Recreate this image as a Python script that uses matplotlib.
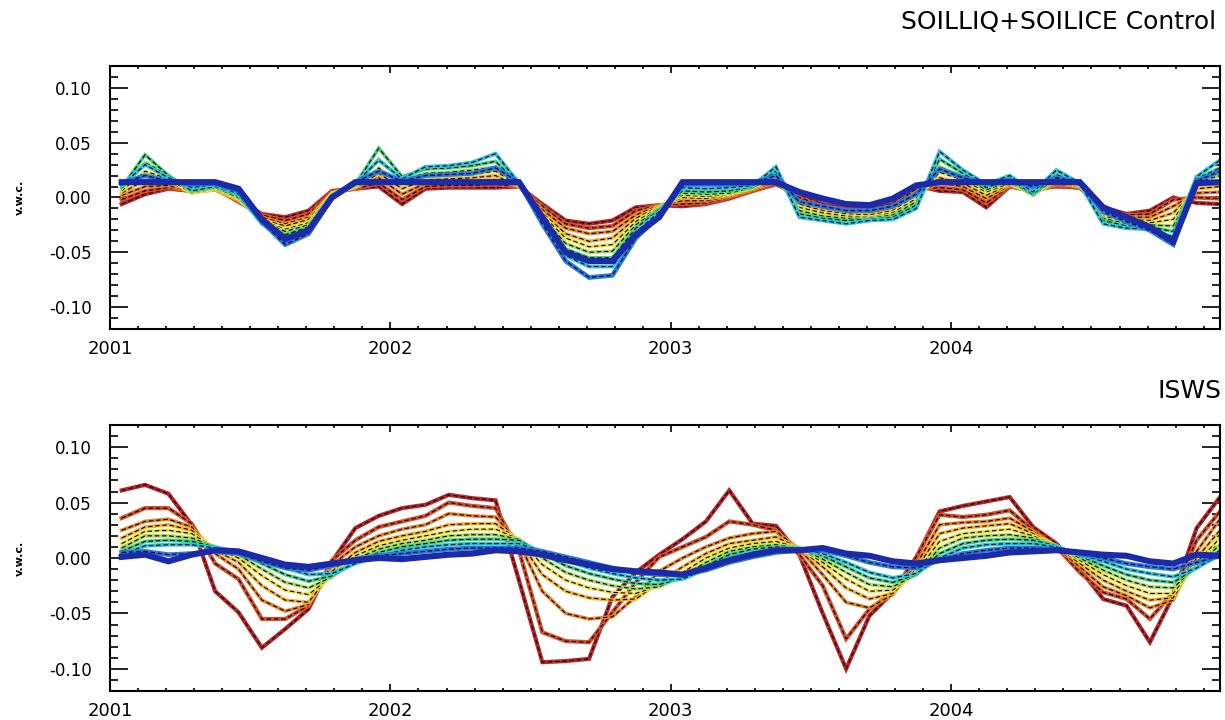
import numpy as np
import matplotlib.pyplot as plt
from matplotlib.ticker import MultipleLocator, FixedLocator, FormatStrFormatter

plt.rcParams['font.family'] = 'DejaVu Sans'
plt.rcParams['axes.unicode_minus'] = False

# meses 2001-2004, valores mensuales de anomalia de humedad (milesimas de v.w.c.)
meses = np.arange(48)
anios = [2001, 2002, 2003, 2004]

# SOILLIQ+SOILICE Control, capa 1 (superficial) a capa 10 (profunda)
ctl_c1 = [-6, 3, 8, 6, 9, -3, -15, -18, -12, 6, 8, 10, -6, 8, 9, 9, 9, 10, -6, -21, -24, -21, -9, -7,
          -8, -6, -1, 6, 12, 2, -6, -10, -10, -6, 11, 6, 5, -9, 10, 8, 10, 9, -9, -15, -12, 0, -5, -6]
ctl_c2 = [-2, 6, 9, 6, 8, -4, -16, -21, -15, 5, 8, 13, -2, 10, 11, 11, 12, 10, -8, -24, -28, -26, -12, -7,
          -6, -5, 0, 6, 13, 0, -8, -11, -12, -8, 8, 9, 7, -5, 10, 6, 11, 9, -11, -16, -15, -2, 0, -1]
ctl_c3 = [2, 10, 11, 5, 7, -3, -18, -24, -18, 4, 9, 18, 3, 13, 14, 15, 16, 10, -11, -28, -33, -31, -16, -7,
          -3, -3, 1, 7, 14, -3, -10, -13, -14, -10, 5, 13, 10, -1, 11, 5, 12, 10, -13, -18, -18, -8, 4, 5]
ctl_c4 = [4, 16, 14, 5, 7, -2, -20, -26, -20, 4, 9, 22, 8, 16, 17, 18, 20, 10, -14, -33, -40, -37, -19, -8,
          0, -1, 2, 8, 16, -6, -12, -15, -16, -12, 2, 18, 13, 2, 12, 4, 14, 10, -15, -20, -21, -14, 8, 10]
ctl_c5 = [6, 24, 17, 4, 8, -1, -21, -29, -23, 4, 10, 27, 12, 19, 20, 21, 24, 11, -16, -37, -45, -43, -22, -9,
          2, 1, 3, 9, 18, -9, -14, -17, -18, -14, -1, 23, 16, 5, 13, 3, 16, 11, -17, -22, -23, -20, 11, 15]
ctl_c6 = [8, 32, 20, 5, 9, 0, -22, -31, -25, 3, 11, 35, 16, 22, 23, 25, 28, 12, -18, -42, -50, -49, -25, -10,
          4, 3, 4, 9, 20, -12, -17, -19, -19, -16, -4, 28, 19, 7, 15, 2, 18, 11, -19, -24, -25, -26, 14, 20]
ctl_c7 = [9, 39, 20, 6, 10, 2, -22, -34, -27, 2, 12, 45, 19, 26, 27, 29, 33, 12, -20, -47, -55, -55, -28, -11,
          6, 5, 6, 10, 24, -15, -19, -21, -20, -18, -7, 35, 22, 9, 17, 3, 21, 12, -21, -26, -27, -31, 17, 27]
ctl_c8 = [11, 30, 18, 9, 12, 3, -24, -38, -30, 1, 13, 34, 17, 28, 29, 32, 40, 13, -22, -53, -63, -63, -32, -13,
          9, 8, 9, 11, 28, -18, -21, -24, -21, -20, -10, 42, 25, 12, 20, 5, 25, 13, -24, -28, -29, -36, 19, 34]
ctl_c9 = [13, 20, 15, 12, 13, 6, -22, -43, -33, 0, 14, 24, 15, 20, 21, 22, 27, 14, -24, -58, -73, -71, -37, -17,
          12, 12, 12, 13, 20, -4, -8, -12, -12, -8, 3, 26, 18, 13, 16, 10, 18, 14, -13, -22, -30, -43, 15, 24]
ctl_c10 = [14, 14, 14, 14, 14, 8, -20, -38, -30, 0, 14, 14, 14, 14, 14, 14, 14, 14, -18, -50, -58, -58, -34, -18,
           14, 14, 14, 14, 14, 5, -1, -6, -7, -1, 11, 14, 14, 14, 14, 14, 14, 14, -9, -18, -27, -40, 13, 14]

# ISWS
isws_c1 = [61, 66, 58, 30, -30, -49, -81, -64, -46, -3, 27, 38, 45, 48, 57, 54, 52, -20, -94, -93, -91, -35, -13, 3,
           17, 33, 61, 31, 29, 3, -50, -100, -52, -31, 0, 42, 47, 51, 55, 28, 13, -10, -37, -43, -76, -34, 27, 55]
isws_c2 = [36, 45, 45, 31, -5, -19, -55, -55, -43, -2, 16, 28, 33, 38, 50, 47, 45, 7, -67, -75, -76, -49, -22, 1,
           10, 19, 33, 30, 25, 3, -25, -73, -46, -31, 1, 39, 37, 39, 43, 25, 10, -13, -31, -37, -55, -31, 16, 42]
isws_c3 = [25, 33, 35, 28, 4, -10, -38, -48, -42, -6, 10, 20, 26, 30, 40, 38, 37, 14, -30, -50, -55, -53, -35, -12,
           0, 10, 18, 22, 24, 8, -15, -40, -45, -33, -6, 30, 32, 33, 36, 24, 10, -8, -26, -34, -45, -38, 6, 35]
isws_c4 = [18, 28, 30, 25, 7, -4, -25, -38, -40, -12, 5, 15, 20, 24, 30, 31, 31, 16, -15, -30, -36, -38, -37, -22,
           -8, 4, 13, 16, 19, 9, -8, -27, -37, -32, -10, 22, 27, 29, 31, 22, 11, -5, -20, -30, -38, -36, 0, 25]
isws_c5 = [13, 24, 25, 22, 9, 0, -16, -29, -33, -16, 2, 11, 16, 20, 24, 26, 26, 17, -6, -20, -27, -31, -32, -25,
           -13, 0, 9, 13, 15, 9, -4, -19, -30, -29, -13, 15, 22, 24, 26, 20, 11, -2, -15, -25, -32, -32, -4, 18]
isws_c6 = [9, 20, 20, 18, 10, 3, -10, -22, -27, -17, -1, 8, 13, 16, 20, 21, 21, 17, 0, -13, -20, -25, -28, -26,
           -16, -4, 6, 10, 12, 9, -1, -13, -24, -26, -15, 9, 18, 20, 21, 18, 11, 0, -11, -20, -26, -27, -7, 12]
isws_c7 = [6, 15, 16, 15, 10, 5, -5, -15, -21, -16, -4, 5, 10, 13, 16, 17, 17, 16, 4, -7, -14, -19, -23, -24,
           -18, -7, 3, 8, 10, 9, 2, -8, -18, -22, -15, 4, 13, 16, 17, 16, 11, 2, -7, -15, -20, -22, -9, 7]
isws_c8 = [3, 11, 12, 12, 9, 6, -1, -9, -15, -14, -5, 2, 7, 10, 12, 13, 13, 13, 6, -2, -9, -14, -18, -20,
           -19, -10, 0, 5, 8, 8, 4, -4, -13, -18, -14, 0, 9, 12, 13, 13, 10, 3, -3, -10, -14, -17, -9, 3]
isws_c9 = [5, 6, 3, 4, 6, 4, -3, -9, -11, -7, -1, 2, 4, 6, 8, 9, 9, 9, 6, 1, -4, -9, -13, -15,
           -15, -11, -4, 1, 5, 7, 7, 2, -4, -8, -9, -2, 4, 7, 9, 9, 8, 4, 0, -5, -8, -10, -4, 2]
isws_c10 = [1, 3, -3, 3, 7, 6, 0, -6, -8, -5, -2, 0, -1, 1, 3, 4, 7, 6, 3, -2, -6, -10, -12, -13,
            -15, -9, -2, 3, 7, 7, 9, 4, 2, -3, -5, -2, 0, 2, 5, 6, 7, 5, 3, 2, -3, -5, 3, 2]

ctl = [ctl_c1, ctl_c2, ctl_c3, ctl_c4, ctl_c5, ctl_c6, ctl_c7, ctl_c8, ctl_c9, ctl_c10]
isws = [isws_c1, isws_c2, isws_c3, isws_c4, isws_c5, isws_c6, isws_c7, isws_c8, isws_c9, isws_c10]

colores = ['#b8262a', '#d4502c', '#e8842e', '#f2b434', '#f0e048',
           '#a8dc60', '#4ccc84', '#30c4dc', '#2a78e0', '#1a2aa8']
grosor = [3.0, 3.0, 2.6, 2.6, 2.6, 2.6, 2.6, 2.8, 3.4, 4.4]


def panel(ax, capas, titulo, ytit):
    t = 2001 + (meses + 0.5) / 12.0
    for k, capa in enumerate(capas):
        y = np.array(capa) / 1000.0
        ax.plot(t, y, color=colores[k], lw=grosor[k], solid_joinstyle='miter')
        if k < 9:
            ax.plot(t, y, color='k', lw=0.8, ls=(0, (4, 2.5)))
    ax.set_xlim(2001, 2001 + 47.5 / 12)
    ax.set_ylim(-0.12, 0.12)
    ax.xaxis.set_major_locator(FixedLocator(anios))
    ax.xaxis.set_minor_locator(MultipleLocator(0.1))
    ax.yaxis.set_major_locator(MultipleLocator(0.05))
    ax.yaxis.set_minor_locator(MultipleLocator(0.01))
    ax.yaxis.set_major_formatter(FormatStrFormatter('%.2f'))
    ax.tick_params(axis='both', which='both', direction='in', top=True, right=True,
                   color='k', width=1.2)
    ax.tick_params(axis='y', which='major', length=13, pad=13, labelsize=12)
    ax.tick_params(axis='y', which='minor', length=6)
    ax.tick_params(axis='x', which='major', length=5, pad=8, labelsize=13)
    ax.tick_params(axis='x', which='minor', length=2.5)
    for s in ax.spines.values():
        s.set_linewidth(1.5)
    fig.text(20 / 1225, ytit, 'v.w.c.', rotation=90, fontsize=8, fontweight='bold',
             ha='center', va='center')
    return ax


fig = plt.figure(figsize=(12.25, 7.2), dpi=100)
ax1 = fig.add_axes([110 / 1225, 1 - 329 / 720, 1110 / 1225, 263 / 720])
ax2 = fig.add_axes([110 / 1225, 1 - 691 / 720, 1110 / 1225, 266 / 720])

panel(ax1, ctl, 'SOILLIQ+SOILICE Control', 1 - 197 / 720)
panel(ax2, isws, 'ISWS', 1 - 558 / 720)

fig.text(1216 / 1225, 1 - 22 / 720, 'SOILLIQ+SOILICE Control', fontsize=18,
         ha='right', va='center')
fig.text(1222 / 1225, 1 - 391 / 720, 'ISWS', fontsize=18, ha='right', va='center')

fig.savefig('out.png', dpi=100)
